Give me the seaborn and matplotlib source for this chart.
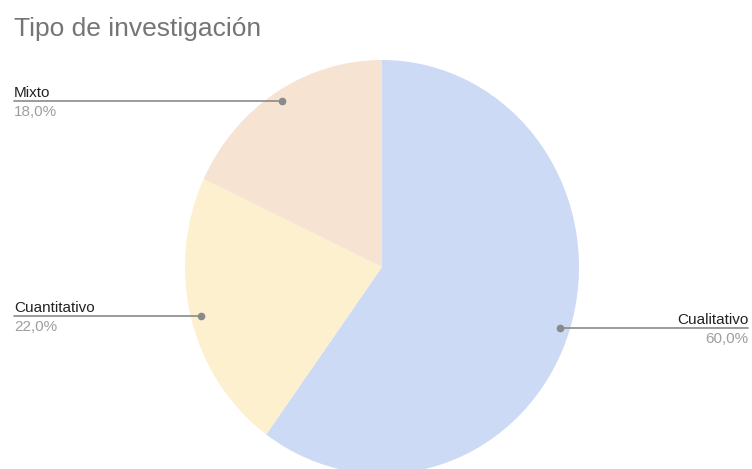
import numpy as np
import matplotlib
matplotlib.use("Agg")
import matplotlib.pyplot as plt
import matplotlib.transforms as mtransforms
import seaborn as sns

# datos del grafico
categorias = ["Cualitativo", "Cuantitativo", "Mixto"]
porcentajes = [60.0, 22.0, 18.0]
colores = ["#cddaf5", "#fcf0cf", "#f6e3d1"]
lado = ["right", "left", "left"]

sns.set_theme(style="white")
plt.rcParams["font.family"] = ["Liberation Sans", "DejaVu Sans"]

W, H = 752, 469
fig = plt.figure(figsize=(W / 100, H / 100), dpi=100)

# pie placed by pixel (centre and radii)
cx, cy, rx, ry = 382, 267, 197, 207
ax = fig.add_axes([(cx - rx) / W, (H - cy - ry) / H, 2 * rx / W, 2 * ry / H])
ax.pie(porcentajes, colors=colores, startangle=90, counterclock=False,
       wedgeprops=dict(linewidth=0))
ax.set_aspect("auto")
ax.set_xlim(-1, 1)
ax.set_ylim(-1, 1)
ax.axis("off")

# leader lines + labels
to_fig = ax.transData + fig.transFigure.inverted()
blend = mtransforms.blended_transform_factory(fig.transFigure, ax.transData)
p = np.array(porcentajes)
ang = np.deg2rad(90 - 360 * (np.cumsum(p) - p / 2) / 100)
px = 72 / 100  # points per pixel

for cat, val, a, side in zip(categorias, porcentajes, ang, lado):
    dx, dy = 0.95 * np.cos(a), 0.95 * np.sin(a)
    fx = to_fig.transform((dx, dy))[0]
    x_end = 14 / W if side == "left" else 748 / W
    ax.plot([x_end, fx], [dy, dy], transform=blend, color="#8a8a8a",
            lw=1.2, clip_on=False)
    ax.plot([fx], [dy], "o", transform=blend, ms=4.5, color="#8a8a8a",
            clip_on=False)
    ax.annotate(cat, xy=(x_end, dy), xycoords=blend, xytext=(0, 4 * px),
                textcoords="offset points", ha=side, va="baseline",
                fontsize=11, color="#222222")
    ax.annotate(f"{val:.1f}%".replace(".", ","), xy=(x_end, dy), xycoords=blend,
                xytext=(0, -15 * px), textcoords="offset points", ha=side,
                va="baseline", fontsize=11, color="#9e9e9e")

fig.text(14 / W, 1 - 36 / H, "Tipo de investigación", fontsize=19,
         color="#757575", va="baseline", ha="left")

fig.savefig("out.png", dpi=100, facecolor="white")
